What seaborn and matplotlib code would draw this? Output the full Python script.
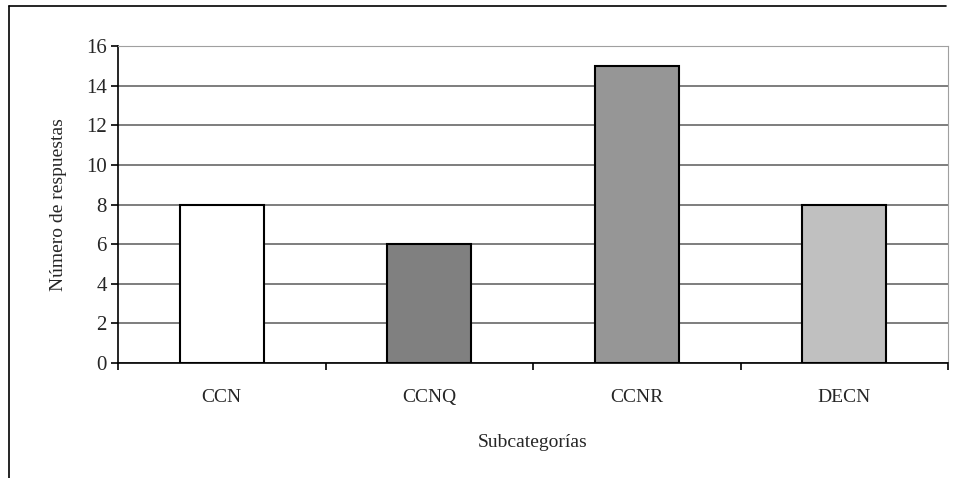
import seaborn as sns
import matplotlib.pyplot as plt
import pandas as pd
from matplotlib.lines import Line2D

# Data
categories = ['CCN', 'CCNQ', 'CCNR', 'DECN']
responses = [8, 6, 15, 8]
bar_colors = ['#FFFFFF', '#808080', '#969696', '#C0C0C0']

sns.set_style('white')
plt.rcParams['font.family'] = ['Liberation Serif', 'DejaVu Serif']

df = pd.DataFrame({'cat': categories, 'n': responses})

fig = plt.figure(figsize=(9.55, 4.78), dpi=100)
ax = fig.add_axes([118 / 955, 1 - 363 / 478, 830 / 955, 317 / 478])

sns.barplot(data=df, x='cat', y='n', hue='cat', palette=bar_colors,
            legend=False, width=0.405, edgecolor='black', linewidth=1.5,
            saturation=1, ax=ax, zorder=3)

ax.set_xlim(-0.5, len(categories) - 0.5)
ax.set_ylim(0, 16)
ax.set_yticks(range(0, 17, 2))
ax.yaxis.grid(True, color='#5A5A5A', linewidth=1.1, zorder=0)
ax.set_axisbelow(True)

for side in ['top', 'right']:
    ax.spines[side].set_color('#A0A0A0')
ax.spines['left'].set_color('black')
ax.spines['bottom'].set_color('black')
ax.spines['left'].set_linewidth(1.2)
ax.spines['bottom'].set_linewidth(1.2)

# category boundary ticks on x axis
ax.set_xticks([i - 0.5 for i in range(len(categories) + 1)], minor=True)
ax.set_xticks(range(len(categories)))
ax.set_xticklabels(categories)
ax.tick_params(axis='x', which='major', length=0, pad=19, labelsize=14)
ax.tick_params(axis='x', which='minor', length=5, width=1.2, direction='out', color='black', bottom=True)
ax.tick_params(axis='y', length=5, width=1.2, direction='out', color='black', left=True, labelsize=15, pad=3)

ax.set_xlabel('Subcategorías', fontsize=14, labelpad=20)
ax.set_ylabel('Número de respuestas', fontsize=14, labelpad=14)

# outer chart frame (left and top edges)
fig.add_artist(Line2D([9 / 955, 9 / 955], [0, 1 - 6 / 478], color='black', linewidth=1.2))
fig.add_artist(Line2D([9 / 955, 946 / 955], [1 - 6 / 478, 1 - 6 / 478], color='black', linewidth=1.2))

fig.savefig('out.png', dpi=100)
